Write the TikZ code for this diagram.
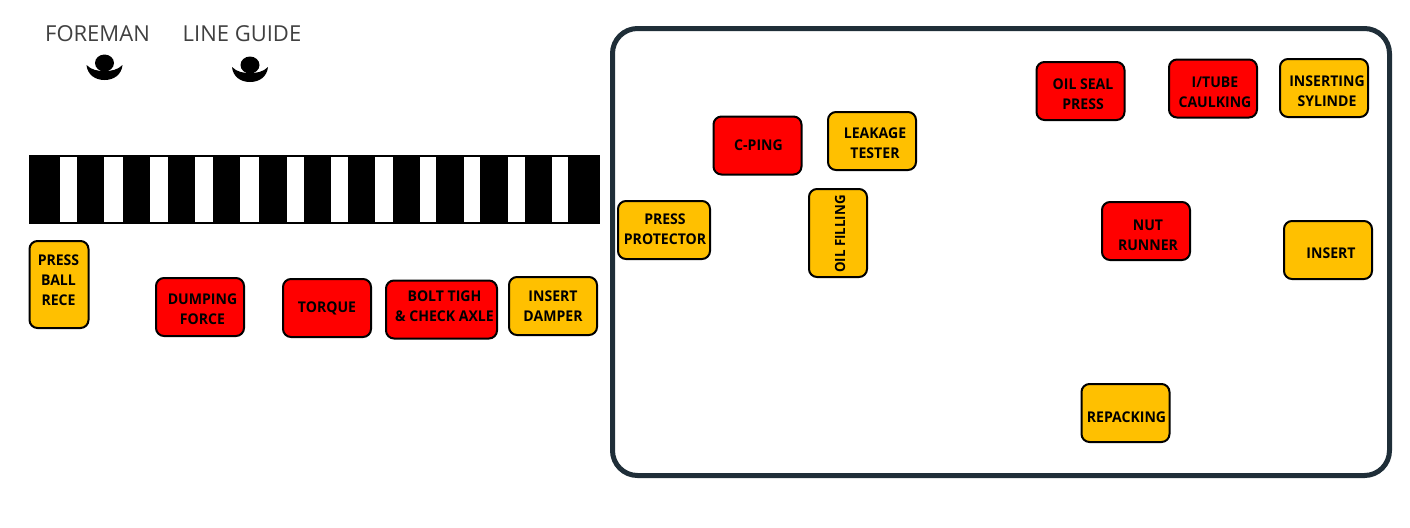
\documentclass[tikz,border=0pt]{standalone}
\usepackage{fontspec}
\setmainfont{Open Sans}[BoldFeatures={FakeStretch=0.95}]
\usetikzlibrary{positioning}

\begin{document}
\begin{tikzpicture}[
    x=0.5pt, y=-0.5pt,
    box/.style      ={draw=black, line width=1pt, rounded corners=4pt, align=center,
                      minimum width=44pt, minimum height=29pt, inner sep=0pt,
                      font=\bfseries\fontsize{7.4}{10}\selectfont},
    redbox/.style   ={box, fill=stationred},
    yellowbox/.style={box, fill=stationyellow},
    boxtext/.style  ={align=center, inner sep=0pt,
                      font=\bfseries\fontsize{7.4}{10}\selectfont},
    role/.style     ={text=black!75, inner sep=0pt, font=\fontsize{11}{13}\selectfont},
    operator/.pic   ={
        \fill (0,0) ellipse [x radius=4.75pt, y radius=4.25pt];
        \fill (-18,2) .. controls (-17,12) and (-9,17) .. (0,17)
            .. controls (9,17) and (17,12) .. (18,2)
            .. controls (13,7) and (7,8) .. (0,8)
            .. controls (-7,8) and (-13,7) .. (-18,2) -- cycle;
    }
]
\definecolor{stationred}{HTML}{FF0000}
\definecolor{stationyellow}{HTML}{FFC000}
\definecolor{framedark}{HTML}{1F2E38}

\useasboundingbox (0,0) rectangle (1410,527);

% Operators
\node[role] (foreman) at (97.5,33.5) {FOREMAN};
\node[role] (lineguide) at (242,33.5) {LINE GUIDE};
\pic at (104.5,63) {operator};
\pic at (250,65) {operator};

% Conveyor
\fill[black] (29,155) rectangle (600,224);
\foreach \xa/\xb in {60/77, 104/123, 150/168, 195/213, 240/259, 287/304,
                     331/348, 375/393, 420/436, 464/480, 508/525, 552/568}
    \fill[white] (\xa,157) rectangle (\xb,222);

% Stations below the conveyor
\node[yellowbox, minimum width=29.5pt, minimum height=43.5pt,
      label={[boxtext, xshift=-0.25pt, yshift=2pt]center:PRESS\\BALL\\RECE}] (pressball) at (59,284.5) {};
\node[redbox, label={[boxtext, xshift=1.25pt, yshift=-1.25pt]center:DUMPING\\FORCE}] (dumping) at (200,307) {};
\node[redbox] (torque) at (327,308) {TORQUE};
\node[redbox, minimum width=55.5pt, label={[boxtext, xshift=1.5pt, yshift=1.5pt]center:BOLT TIGH\\\& CHECK AXLE}] (bolt) at (441.5,309.5) {};
\node[yellowbox] (damper) at (553,306) {INSERT\\DAMPER};

% Cell frame
\draw[framedark, line width=2.5pt, rounded corners=12.5pt] (612.5,28.5) rectangle (1389.5,475.5);

% Stations inside the cell
\node[yellowbox, minimum width=46pt, label={[boxtext, xshift=0.5pt, yshift=0.5pt]center:PRESS\\PROTECTOR}] (protector) at (664,230) {};
\node[redbox, label={[boxtext, xshift=0.5pt]center:C-PING}] (cping) at (757.5,145.5) {};
\node[yellowbox, label={[boxtext, xshift=1.5pt, yshift=-1pt]center:LEAKAGE\\TESTER}] (leakage) at (872,141) {};
\node[yellowbox, minimum width=29pt, minimum height=44pt,
      label={[boxtext, rotate=90, xshift=-0.5pt, yshift=-1pt, font=\bfseries\fontsize{7}{10}\selectfont]center:OIL FILLING}] (oilfill) at (838,233) {};
\node[redbox, label={[boxtext, xshift=1.25pt, yshift=-1.5pt]center:OIL SEAL\\PRESS}] (oilseal) at (1080.5,91) {};
\node[redbox, label={[boxtext, xshift=1pt, yshift=-2pt]center:I/TUBE\\CAULKING}] (itube) at (1213,88.5) {};
\node[yellowbox, label={[boxtext, xshift=1.5pt, yshift=-1.5pt]center:INSERTING\\SYLINDE}] (sylinde) at (1324,88) {};
\node[redbox, label={[boxtext, xshift=1pt, yshift=-2pt]center:NUT\\RUNNER}] (nut) at (1146,231) {};
\node[yellowbox, label={[boxtext, xshift=1.5pt, yshift=-1.5pt]center:INSERT}] (insert) at (1328,250) {};
\node[yellowbox, label={[boxtext, xshift=0.5pt, yshift=-2pt]center:REPACKING}] (repack) at (1125.5,413) {};

\end{tikzpicture}
\end{document}
